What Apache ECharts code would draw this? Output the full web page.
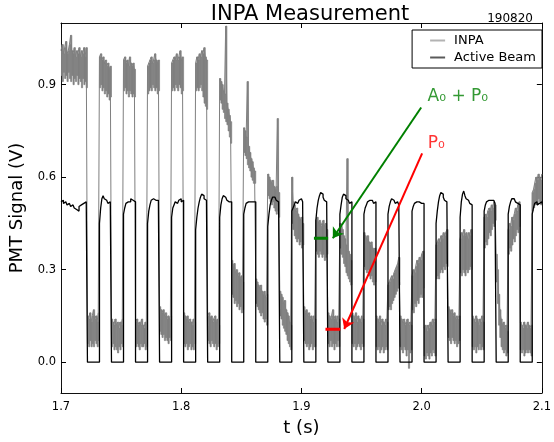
<!DOCTYPE html>
<html><head><meta charset="utf-8">
<script src="https://cdn.jsdelivr.net/npm/echarts@6/dist/echarts.min.js"></script>
<style>html,body{margin:0;padding:0;background:#fff}#c{width:554px;height:442px}</style>
</head><body><div id="c"></div>
<script>
// ---- tick labels ----
const xTicks = [1.7, 1.8, 1.9, 2.0, 2.1];
const yTicks = [0.0, 0.3, 0.6, 0.9];
// ---- sample clock (s) ----
const sampleStart = 1.700, sampleStep = 0.001;

// ---- INPA signal: upper / lower edge of noise band per sample (V) ----
const inpaHi = [
 1.01,1.03,1.00,1.02,1.04,1.00,1.01,1.03,1.06,1.01,1.00,1.02,0.99,1.01,1.00,1.02,0.99,1.01,1.00,1.02,0.99,1.02,
 0.15,0.14,0.16,0.13,0.15,0.17,0.14,0.15,0.13,0.16, 0.99,1.00,0.98,0.99,0.97,0.98,0.96,0.97,0.95,0.96,
 0.14,0.13,0.12,0.14,0.12,0.13,0.11,0.13,0.12,0.14, 0.98,0.99,0.97,0.98,0.96,0.99,0.97,0.96,0.97,0.95,
 0.13,0.14,0.12,0.13,0.12,0.14,0.12,0.11,0.13,0.12, 0.96,0.97,0.98,0.99,0.97,0.98,1.00,0.98,0.97,0.98,
 0.18,0.17,0.16,0.17,0.15,0.16,0.14,0.15,0.14,0.15, 0.97,0.98,0.99,0.98,1.00,0.98,0.99,1.01,0.98,0.99,
 0.16,0.15,0.14,0.15,0.13,0.14,0.13,0.12,0.14,0.13, 0.97,0.99,0.98,1.00,0.99,1.01,1.00,1.02,0.99,0.98,
 0.15,0.16,0.14,0.15,0.13,0.14,0.15,0.13,0.14,0.12, 0.92,0.91,0.90,0.88,0.87,1.09,0.84,0.82,0.80,0.78,
 0.33,0.31,0.32,0.29,0.30,0.28,0.29,0.27,0.28,0.26, 0.76,0.75,0.73,0.91,0.70,0.68,0.66,0.65,0.63,0.62,
 0.27,0.26,0.25,0.24,0.25,0.23,0.22,0.23,0.21,0.22, 0.61,0.60,0.59,0.58,0.59,0.57,0.56,0.57,0.79,0.55,
 0.23,0.22,0.21,0.19,0.20,0.17,0.16,0.15,0.13,0.12, 0.60,0.52,0.51,0.49,0.50,0.48,0.47,0.46,0.47,0.45,
 0.18,0.16,0.17,0.15,0.16,0.14,0.15,0.13,0.15,0.14, 0.46,0.47,0.45,0.46,0.44,0.45,0.46,0.44,0.45,0.43,
 0.16,0.15,0.14,0.15,0.17,0.14,0.15,0.13,0.15,0.14, 0.45,0.44,0.43,0.41,0.40,0.38,0.66,0.36,0.35,0.33,
 0.16,0.15,0.14,0.16,0.13,0.15,0.14,0.13,0.15,0.14, 0.42,0.41,0.40,0.41,0.39,0.38,0.39,0.37,0.36,0.37,
 0.15,0.14,0.13,0.15,0.12,0.14,0.13,0.12,0.14,0.13, 0.25,0.26,0.27,0.28,0.27,0.29,0.30,0.31,0.32,0.34,
 0.15,0.14,0.13,0.14,0.12,0.13,0.14,0.12,0.13,0.12, 0.28,0.30,0.29,0.31,0.33,0.32,0.34,0.33,0.35,0.36,
 0.11,0.12,0.10,0.12,0.11,0.13,0.12,0.14,0.13,0.14, 0.38,0.39,0.40,0.39,0.41,0.40,0.42,0.41,0.42,0.43,
 0.18,0.17,0.16,0.17,0.15,0.16,0.14,0.15,0.14,0.15, 0.40,0.42,0.41,0.43,0.41,0.42,0.40,0.42,0.41,0.43,
 0.15,0.14,0.13,0.15,0.14,0.12,0.14,0.13,0.15,0.13, 0.47,0.48,0.47,0.49,0.50,0.49,0.51,0.50,0.52,0.51,
 0.35,0.30,0.22,0.17,0.14,0.12,0.13,0.11,0.12,0.10, 0.43,0.45,0.44,0.47,0.46,0.48,0.50,0.49,0.51,0.52,
 0.13,0.12,0.11,0.13,0.12,0.11,0.13,0.12,0.11,0.12, 0.55,0.56,0.58,0.60,0.59,0.61,0.60,0.59,0.61
];
const inpaLo = [
 0.93,0.91,0.94,0.92,0.93,0.91,0.94,0.92,0.91,0.93,0.90,0.92,0.91,0.93,0.90,0.92,0.91,0.89,0.92,0.90,0.91,0.89,
 0.06,0.05,0.07,0.05,0.06,0.05,0.07,0.06,0.05,0.07, 0.89,0.90,0.88,0.89,0.87,0.88,0.86,0.87,0.85,0.86,
 0.05,0.06,0.04,0.05,0.04,0.03,0.05,0.04,0.06,0.05, 0.88,0.89,0.87,0.88,0.86,0.88,0.87,0.86,0.87,0.86,
 0.05,0.06,0.05,0.04,0.06,0.05,0.05,0.06,0.04,0.05, 0.87,0.88,0.89,0.88,0.90,0.89,0.88,0.89,0.87,0.88,
 0.10,0.09,0.08,0.09,0.07,0.08,0.07,0.06,0.08,0.07, 0.88,0.89,0.88,0.90,0.89,0.88,0.90,0.89,0.87,0.88,
 0.06,0.05,0.06,0.04,0.05,0.06,0.04,0.05,0.04,0.06, 0.88,0.89,0.88,0.89,0.90,0.88,0.86,0.84,0.83,0.82,
 0.07,0.06,0.05,0.07,0.06,0.05,0.06,0.04,0.05,0.06, 0.85,0.84,0.82,0.81,0.79,0.78,0.77,0.75,0.73,0.71,
 0.22,0.21,0.19,0.20,0.18,0.19,0.17,0.18,0.16,0.17, 0.68,0.67,0.66,0.64,0.63,0.62,0.60,0.59,0.58,0.58,
 0.19,0.18,0.17,0.16,0.15,0.16,0.14,0.13,0.14,0.12, 0.54,0.53,0.52,0.51,0.52,0.50,0.49,0.48,0.49,0.47,
 0.15,0.14,0.12,0.11,0.10,0.09,0.07,0.06,0.05,0.04, 0.45,0.43,0.41,0.40,0.39,0.40,0.38,0.39,0.37,0.38,
 0.07,0.06,0.05,0.06,0.04,0.05,0.06,0.04,0.05,0.05, 0.36,0.35,0.34,0.36,0.35,0.34,0.35,0.33,0.34,0.35,
 0.06,0.05,0.07,0.05,0.06,0.04,0.06,0.05,0.07,0.05, 0.37,0.35,0.34,0.32,0.31,0.29,0.28,0.27,0.26,0.25,
 0.06,0.05,0.06,0.04,0.05,0.06,0.05,0.04,0.06,0.05, 0.31,0.30,0.29,0.30,0.28,0.27,0.28,0.26,0.25,0.26,
 0.05,0.04,0.05,0.03,0.04,0.05,0.03,0.04,0.05,0.04, 0.17,0.18,0.17,0.19,0.20,0.21,0.22,0.23,0.24,0.25,
 0.05,0.04,0.03,0.05,0.04,0.02,0.04,-0.02,0.03,0.04, 0.17,0.16,0.19,0.18,0.20,0.19,0.21,0.22,0.21,0.24,
 0.02,0.01,0.03,0.02,0.01,0.03,0.02,0.04,0.03,0.02, 0.27,0.28,0.27,0.29,0.30,0.29,0.31,0.30,0.32,0.31,
 0.08,0.07,0.06,0.08,0.07,0.06,0.07,0.05,0.06,0.07, 0.29,0.28,0.30,0.29,0.28,0.30,0.29,0.30,0.31,0.30,
 0.05,0.04,0.05,0.03,0.05,0.04,0.06,0.04,0.05,0.04, 0.37,0.39,0.38,0.40,0.42,0.41,0.43,0.45,0.44,0.46,
 0.26,0.19,0.12,0.08,0.05,0.04,0.03,0.04,0.02,0.03, 0.35,0.37,0.36,0.38,0.40,0.39,0.41,0.43,0.42,0.44,
 0.04,0.03,0.04,0.02,0.03,0.04,0.03,0.04,0.03,0.02, 0.49,0.50,0.51,0.52,0.51,0.53,0.52,0.51,0.52
];
// ---- Active beam signal per sample (V) ----
const beam = [
 0.52,0.525,0.515,0.52,0.515,0.51,0.515,0.51,0.505,0.51,0.505,0.50,0.495,0.50,0.49,0.505,0.51,0.505,0.515,0.51,0.52,0.515,
 0,0,0,0,0,0,0,0,0,0, 0.45,0.50,0.53,0.54,0.53,0.525,0.52,0.515,0.52,0.515,
 0,0,0,0,0,0,0,0,0,0, 0.48,0.50,0.515,0.52,0.525,0.52,0.53,0.525,0.52,0.52,
 0,0,0,0,0,0,0,0,0,0, 0.45,0.49,0.51,0.525,0.53,0.53,0.525,0.52,0.525,0.52,
 0,0,0,0,0,0,0,0,0,0, 0.47,0.50,0.51,0.52,0.515,0.52,0.525,0.53,0.52,0.525,
 0,0,0,0,0,0,0,0,0,0, 0.43,0.47,0.50,0.52,0.535,0.545,0.54,0.53,0.525,0.52,
 0,0,0,0,0,0,0,0,0,0, 0.47,0.51,0.53,0.54,0.535,0.53,0.525,0.52,0.515,0.52,
 0,0,0,0,0,0,0,0,0,0, 0.48,0.50,0.515,0.52,0.525,0.52,0.525,0.52,0.515,0.52,
 0,0,0,0,0,0,0,0,0,0, 0.44,0.48,0.51,0.525,0.535,0.535,0.53,0.525,0.52,0.515,
 0,0,0,0,0,0,0,0,0,0, 0.49,0.50,0.51,0.52,0.515,0.52,0.525,0.53,0.525,0.52,
 0,0,0,0,0,0,0,0,0,0, 0.46,0.50,0.525,0.54,0.55,0.545,0.535,0.525,0.52,0.515,
 0,0,0,0,0,0,0,0,0,0, 0.48,0.51,0.535,0.545,0.54,0.53,0.525,0.52,0.515,0.52,
 0,0,0,0,0,0,0,0,0,0, 0.48,0.50,0.51,0.52,0.525,0.52,0.525,0.52,0.515,0.52,
 0,0,0,0,0,0,0,0,0,0, 0.48,0.505,0.52,0.53,0.525,0.52,0.515,0.52,0.515,0.51,
 0,0,0,0,0,0,0,0,0,0, 0.49,0.505,0.515,0.52,0.515,0.52,0.52,0.515,0.52,0.515,
 0,0,0,0,0,0,0,0,0,0, 0.45,0.49,0.52,0.54,0.55,0.545,0.535,0.525,0.52,0.52,
 0,0,0,0,0,0,0,0,0,0, 0.47,0.52,0.545,0.555,0.54,0.53,0.525,0.52,0.515,0.51,
 0,0,0,0,0,0,0,0,0,0, 0.49,0.51,0.52,0.525,0.53,0.525,0.52,0.525,0.52,0.515,
 0,0,0,0,0,0,0,0,0,0, 0.48,0.505,0.52,0.53,0.53,0.525,0.52,0.515,0.52,0.51,
 0,0,0,0,0,0,0,0,0,0, 0.48,0.50,0.515,0.52,0.51,0.515,0.51,0.52,0.515
];
// ---- annotations (data coordinates: s, V) ----
const greenMark = [[1.9104, 0.402], [1.9222, 0.402]];
const redMark = [[1.9200, 0.107], [1.9323, 0.107]];
const greenArrow = [[1.9996, 0.826], [1.9261, 0.402]];
const redArrow = [[2.0004, 0.677], [1.9356, 0.1075]];
const greenLabelAt = [2.0045, 0.862];
const redLabelAt = [2.0047, 0.710];

const FONT = 'DejaVu Sans';
const tAt = i => +(sampleStart + i * sampleStep).toFixed(3);
const bandData = inpaHi.map((v, i) => [tAt(i), inpaLo[i], v]);
const hiData = inpaHi.map((v, i) => [tAt(i), v]);
const beamData = beam.map((v, i) => [tAt(i), v]);

const chart = echarts.init(document.getElementById('c'), null, {renderer: 'canvas'});
const axisCommon = {
  type: 'value', scale: true,
  axisLine: {show: true, onZero: false, lineStyle: {color: '#111', width: 1}},
  splitLine: {show: false}
};
chart.setOption({
  animation: false,
  backgroundColor: '#fff',
  title: [
    {text: 'INPA Measurement', left: 305, top: -1, textAlign: 'center',
     textStyle: {fontFamily: FONT, fontSize: 21, fontWeight: 'normal', color: '#000'}},
    {text: '190820', right: 16, top: 8,
     textStyle: {fontFamily: FONT, fontSize: 12, fontWeight: 'normal', color: '#000'}}
  ],
  legend: {
    orient: 'vertical', right: 12, top: 30,
    backgroundColor: '#fff', borderColor: '#000', borderWidth: 1, borderRadius: 0,
    padding: [4, 6, 4, 18], itemGap: 4, itemWidth: 15, itemHeight: 2, icon: 'rect',
    textStyle: {fontFamily: FONT, fontSize: 13, color: '#000', padding: [0, 0, 0, 4]},
    data: [
      {name: 'INPA', itemStyle: {color: '#b3b3b3'}},
      {name: 'Active Beam', itemStyle: {color: '#5a5a5a'}}
    ]
  },
  grid: {left: 61, right: 6, top: 23, bottom: 44},
  xAxis: [
    Object.assign({}, axisCommon, {
      min: 1.7, max: 2.1, position: 'bottom',
      name: 't (s)', nameLocation: 'middle', nameGap: 26,
      nameTextStyle: {fontFamily: FONT, fontSize: 18, color: '#000'},
      axisTick: {show: true, inside: true, length: 5, customValues: xTicks, lineStyle: {color: '#000'}},
      axisLabel: {show: true, customValues: xTicks, margin: 8, fontFamily: FONT, fontSize: 11.5, color: '#000',
                  formatter: v => v.toFixed(1)}
    }),
    Object.assign({}, axisCommon, {
      min: 1.7, max: 2.1, position: 'top',
      axisTick: {show: true, inside: true, length: 5, customValues: xTicks, lineStyle: {color: '#000'}},
      axisLabel: {show: false}
    })
  ],
  yAxis: [
    Object.assign({}, axisCommon, {
      min: -0.1, max: 1.1, position: 'left',
      name: 'PMT Signal (V)', nameLocation: 'middle', nameGap: 21, nameRotate: 90,
      nameTextStyle: {fontFamily: FONT, fontSize: 18, color: '#000'},
      axisTick: {show: true, inside: true, length: 5, customValues: yTicks, lineStyle: {color: '#000'}},
      axisLabel: {show: true, customValues: yTicks, margin: 5, fontFamily: FONT, fontSize: 11.5, color: '#000',
                  formatter: v => v.toFixed(1)}
    }),
    Object.assign({}, axisCommon, {
      min: -0.1, max: 1.1, position: 'right',
      axisTick: {show: true, inside: true, length: 5, customValues: yTicks, lineStyle: {color: '#000'}},
      axisLabel: {show: false}
    })
  ],
  series: [
    {name: 'INPA_band', type: 'custom', data: bandData, clip: true, silent: true, z: 1,
     encode: {x: 0, y: [1, 2]},
     renderItem: (params, api) => {
       const t = api.value(0), lo = api.value(1), hi = api.value(2);
       const p1 = api.coord([t, hi]);
       const p2 = api.coord([t + sampleStep, lo]);
       return {type: 'rect',
               shape: {x: p1[0], y: p1[1], width: p2[0] - p1[0], height: p2[1] - p1[1]},
               style: {fill: '#808080', stroke: '#808080', lineWidth: 0.7}};
     }},
    {name: 'INPA', type: 'line', data: hiData, step: 'end', symbol: 'none', silent: true,
     lineStyle: {color: '#808080', width: 1}, itemStyle: {color: '#808080'}, z: 2},
    {name: 'Active Beam', type: 'line', data: beamData, step: 'end', symbol: 'none', silent: true,
     lineStyle: {color: '#000', width: 1.3}, itemStyle: {color: '#000'}, z: 3},
    {name: 'markA', type: 'line', data: greenMark, symbol: 'none', silent: true,
     lineStyle: {color: '#008000', width: 3}, z: 4},
    {name: 'markP', type: 'line', data: redMark, symbol: 'none', silent: true,
     lineStyle: {color: '#ff0000', width: 3}, z: 4},
    {name: 'arrows', type: 'lines', coordinateSystem: 'cartesian2d', silent: true, z: 5,
     symbol: ['none', 'arrow'], symbolSize: [6, 10],
     data: [
       {coords: greenArrow, lineStyle: {color: '#008000', width: 2, opacity: 1}},
       {coords: redArrow, lineStyle: {color: '#ff0000', width: 2, opacity: 1}}
     ]},
    {name: 'labels', type: 'scatter', symbolSize: 1, silent: true, z: 6,
     itemStyle: {color: 'transparent'},
     data: [
       {value: greenLabelAt, label: {show: true, position: 'right', distance: 0, formatter: 'A₀ + P₀',
         fontFamily: FONT, fontSize: 17, color: '#008000'}},
       {value: redLabelAt, label: {show: true, position: 'right', distance: 0, formatter: 'P₀',
         fontFamily: FONT, fontSize: 17, color: '#ff0000'}}
     ]}
  ]
});
</script></body></html>
